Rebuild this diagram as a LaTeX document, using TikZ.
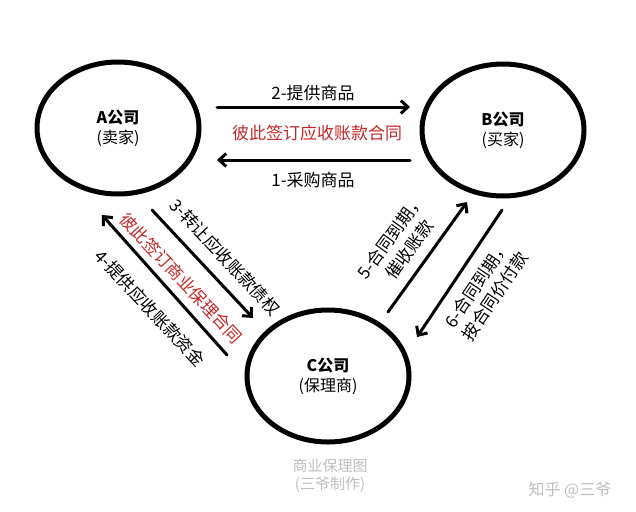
\documentclass[tikz,border=0pt]{standalone}
\usepackage{fontspec}
\setmainfont{Noto Sans CJK SC}
\usetikzlibrary{shapes.geometric,arrows.meta}
\definecolor{hongse}{RGB}{196,40,40}
\definecolor{qianhui}{RGB}{190,190,190}

\begin{document}
\begin{tikzpicture}[x=1pt, y=-1pt, line join=round, line cap=round, >={Straight Barb[length=7pt,width=13pt]},
	gongsi/.style={ellipse, draw, line width=5pt, minimum width=162pt, minimum height=132pt, inner sep=0pt, align=center, font=\fontsize{16}{20}\selectfont},
	jiantou/.style={->, line width=3pt},
	biaoqian/.style={font=\fontsize{17}{22}\selectfont, align=center},
	hetong/.style={biaoqian, text=hongse}]
	\useasboundingbox (0,0) rectangle (636,511);
	% three companies
	\node[gongsi] (A) at (118,128) {\textbf{A公司}\\(卖家)};
	\node[gongsi] (B) at (503,130) {\textbf{B公司}\\(买家)};
	\node[gongsi] (C) at (328,376) {\textbf{C公司}\\(保理商)};
	% arrow ends
	\coordinate (a2) at (217,107); \coordinate (b2) at (410,107);
	\coordinate (b1) at (410,160); \coordinate (a1) at (217,160);
	\coordinate (a3) at (152,210); \coordinate (c3) at (253,318);
	\coordinate (c4) at (227,355); \coordinate (a4) at (102,215);
	\coordinate (c5) at (388,312); \coordinate (b5) at (467,202);
	\coordinate (b6) at (502,210); \coordinate (c6) at (417,337);
	\draw[jiantou] (a2)--(b2);
	\draw[jiantou] (b1)--(a1);
	\draw[jiantou] (a3)--(c3);
	\draw[jiantou] (c4)--(a4);
	\draw[jiantou] (c5)--(b5);
	\draw[jiantou] (b6)--(c6);
	% labels
	\node[biaoqian] (l2) at (313,93) {2-提供商品};
	\node[hetong] (h1) at (317,133) {彼此签订应收账款合同};
	\node[biaoqian] (l1) at (313,180) {1-采购商品};
	\node[biaoqian, rotate=-47] (l3) at (225,257) {3-转让应收账款债权};
	\node[hetong, rotate=-47] (h2) at (181,278) {彼此签订商业保理合同};
	\node[biaoqian, rotate=-47] (l4) at (150,308) {4-提供应收账款资金};
	\node[biaoqian, rotate=54] (l5) at (400,243) {5-合同到期，\\催收账款};
	\node[biaoqian, rotate=56] (l6) at (486,290) {6-合同到期，\\按合同价付款};
	% notes
	\node[text=qianhui, align=center, font=\fontsize{15}{18}\selectfont] (zhu) at (330,476) {商业保理图\\(三爷制作)};
	\node[text=qianhui, font=\fontsize{16}{18}\selectfont] (shuiyin) at (570,490) {知乎 @三爷};
\end{tikzpicture}
\end{document}
